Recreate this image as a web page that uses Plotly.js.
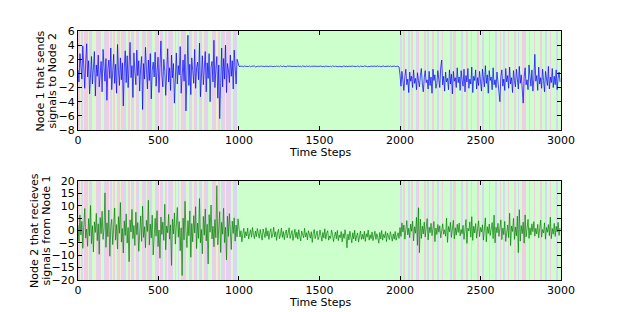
<!DOCTYPE html>
<html>
<head>
<meta charset="utf-8">
<script src="https://cdn.plot.ly/plotly-3.0.1.min.js"></script>
<style>html,body{margin:0;padding:0;background:#fff;}#chart{width:623px;height:312px;}</style>
</head>
<body>
<div id="chart"></div>
<script>
// ---- data (time steps 0..3000, three regimes) ----
const segStarts = [0, 1000, 2000];
const segLength = 1000;

const node1SegA = [0.5,-1.2,2.8,1.1,-0.8,3.9,0.2,-2.1,1.6,4.2,-0.5,1.8,-2.9,0.7,2.4,-1.5,0.9,3.1,-3.2,1.2,
-0.4,2.6,-1.9,0.3,1.7,-2.6,3.4,0.8,-1.1,2.1,-3.8,0.6,1.9,-0.7,3.6,-2.3,0.1,2.7,-1.4,1.3,
-2.8,4.1,0.4,-1.7,2.2,-0.9,1.5,-4.6,0.8,3.2,-1.3,2.5,-2.0,0.5,4.4,-0.6,1.1,-3.4,2.9,0.2,
-1.6,3.3,-0.3,1.8,-2.5,0.9,2.4,-5.1,1.4,-0.8,3.7,0.6,-2.2,1.9,-1.0,2.8,-3.6,0.4,1.6,-0.5,
3.0,-1.8,0.7,2.3,-2.7,1.2,4.6,-0.4,-1.9,2.0,0.3,-3.1,1.7,3.5,-1.2,0.8,-2.4,2.6,-0.6,1.4,
-4.2,0.9,2.9,-1.5,1.1,-0.2,3.8,-2.8,0.5,1.9,-1.1,2.7,-5.3,0.6,5.4,-1.7,1.3,-3.0,2.2,0.4,
-1.4,3.4,-2.1,0.8,1.6,-0.9,4.3,-3.3,1.0,2.5,-1.6,0.2,3.1,-2.6,1.5,-0.7,2.8,-4.0,0.9,1.7,
-1.2,4.7,-2.0,0.6,2.4,-3.5,1.2,-6.4,0.3,3.6,-1.9,2.1,-0.8,4.0,-2.7,1.4,0.5,-1.3,2.6,-0.4,
1.8,-2.2,3.3,0.7,-1.5,2.0,1.2];
const node1SegB = [1.02,0.96,1.05,0.99,1.03,0.94,1.07,1.00,0.97,1.04,0.98,1.06,0.95,1.01,1.03,0.97,1.05,0.93,1.02,0.99,
1.04,0.96,1.01,1.06,0.98,1.03,0.95,1.00,1.05,0.97,1.02,0.94,1.06,0.99,1.03,0.96,1.04,1.00,0.97,1.05,
0.98,1.03,0.95,1.07,1.00,0.96,1.04,0.99,1.02,0.94,1.05,0.98,1.01,1.06,0.97,1.03,0.95,1.02,0.99,1.04,
0.96,1.05,1.00,0.97,1.03,0.93,1.06,0.99,1.02,0.96,1.04,1.00,0.98,1.05,0.95,1.01,1.03,0.97,1.06,0.99,
1.02,0.95,1.04,0.98,1.01,1.06,0.96,1.03,0.99,0.94,1.05,1.00,0.97,1.04,0.98,1.02,0.95,1.06,1.00,0.97,
1.03,0.99,1.05,0.96,1.01,0.98,1.04,0.95,1.02,1.06,0.97,1.00,1.03,0.94,1.05,0.99,1.02,0.97,1.04,1.00,
0.96,1.03,0.98,1.05,1.00,0.95,1.04,0.99,1.02,0.97,1.06,0.98,1.01,0.95,1.03,1.00,0.97,1.05,0.99,1.02,
0.96,1.04,0.98,1.01,1.06,0.97,1.03,0.95,1.02,0.99,1.05,0.98,1.00,1.04,0.96,1.02,0.99,1.05,0.97,1.03,
0.98,1.04,1.00,0.96,1.05,0.99,0.92];
const node1SegC = [-0.2,-1.8,0.3,-1.2,-2.4,-0.5,0.6,-1.6,-0.8,-2.7,0.2,-1.1,-0.4,-2.0,0.5,-1.4,-0.7,-2.3,0.1,-1.0,
-1.9,-0.3,0.7,-1.5,-2.6,-0.6,0.4,-1.3,-0.9,-2.2,0.3,-1.7,-0.5,-2.8,0.6,-1.0,-0.2,-2.1,-1.4,0.4,
-0.8,-2.0,0.9,1.9,-1.6,-0.4,-2.5,0.2,-1.2,-0.7,-2.3,0.5,-1.5,-0.1,-2.9,0.3,-1.1,-0.6,-2.0,0.8,
-1.3,-0.5,-2.4,0.4,-0.9,-1.8,0.6,-2.6,-0.3,-1.2,0.7,-2.1,-0.8,-1.5,0.9,-2.7,-0.4,-1.0,0.5,-2.2,
-0.6,-1.7,0.3,-1.1,-2.5,0.6,-0.7,-1.9,1.1,-1.4,-0.2,-2.8,0.4,-1.0,-0.5,-2.3,0.8,-1.6,-0.9,-2.0,
0.2,-1.3,-2.6,-4.0,-0.4,0.5,-1.8,-0.8,-2.4,0.7,-1.2,-0.3,-2.1,0.9,-1.5,-0.6,-2.7,0.4,-1.0,-1.9,
0.6,-0.7,-2.2,1.0,-1.4,-0.2,-2.9,-4.2,-0.5,0.8,-1.6,-0.9,-2.3,1.2,-0.4,-1.8,0.5,-2.5,-0.8,2.7,
-1.1,-0.3,-2.4,0.9,-1.5,-0.6,-2.1,0.6,-1.0,-2.6,0.3,-0.8,-1.7,1.0,-2.2,-0.5,-1.3,0.7,-2.0,-0.4,
-1.6,0.5,-2.3,-0.7,0.2,-1.2];

const node2SegA = [2.1,-4.5,6.3,-1.8,3.7,-7.2,1.4,8.9,-3.1,0.6,-6.4,4.8,-2.2,10.1,-5.3,1.9,-8.7,3.5,-0.8,6.9,
-4.1,2.7,-9.6,5.2,-1.3,7.8,-3.6,0.9,15.2,-6.8,3.1,-2.5,8.3,-10.4,1.6,4.5,-5.7,0.3,9.1,-3.9,
2.4,-7.5,5.6,-1.1,11.3,-4.7,0.8,-9.1,3.9,-2.0,6.7,-5.1,1.2,-12.6,4.3,-0.6,8.5,-3.3,2.0,-6.1,
7.4,-1.7,3.2,-8.4,0.5,5.9,-4.4,9.8,-2.8,1.5,-7.0,4.1,-0.4,12.2,-5.9,2.6,-3.0,6.2,-9.9,1.0,
4.9,-2.3,8.0,-6.5,0.2,-11.2,5.4,-1.6,3.4,-4.0,10.6,-7.8,1.8,-0.9,6.5,-3.5,2.3,-14.1,4.6,-1.4,
7.1,-5.5,0.7,9.3,-2.7,3.6,-8.2,1.1,-18.2,5.0,-3.8,11.8,-0.2,-6.9,4.0,-2.1,7.9,-10.8,2.8,-4.6,
6.0,-1.0,9.6,-7.3,3.0,-3.2,12.9,-5.0,0.4,-9.4,5.7,-1.9,8.7,-4.2,2.5,-13.5,6.4,-0.7,10.3,-3.4,
1.7,-6.6,4.4,-2.9,18.1,-5.8,0.9,7.6,-8.9,3.3,-1.5,9.0,-4.9,1.3,-11.9,5.8,-2.4,6.8,-0.3,-7.7,
3.8,-1.2,5.1,-4.3,2.2,-2.6,4.7];
const node2SegB = [0.2,-2.6,-0.1,-4.6,-1.2,0.9,-3.0,-0.5,-2.2,1.0,-3.4,-0.9,0.3,-2.7,1.2,-1.6,-3.3,-0.2,-2.5,0.8,
-1.3,-3.1,0.4,-2.0,-3.9,0.6,-1.0,-2.9,1.1,-2.3,-0.1,-3.6,-0.8,0.7,-2.9,-1.4,1.3,-2.6,-0.5,-4.0,
-1.0,0.5,-3.3,-1.8,1.0,-2.8,-0.4,-3.7,-1.2,0.2,-3.0,-0.9,1.1,-3.2,-1.7,0.0,-4.0,-1.1,0.5,-2.9,
-0.7,-3.5,0.3,-2.3,-4.2,-0.2,-1.4,-3.0,0.9,-2.6,-0.9,-3.8,-0.1,-2.2,-3.1,-0.5,-4.8,-1.2,0.4,-3.3,
-1.4,-0.2,-3.7,-2.5,0.2,-2.0,-4.3,-0.8,-3.0,0.7,-3.5,-1.1,-0.1,-3.9,-2.2,-3.2,0.2,-1.6,-4.5,-2.4,
-0.6,-3.3,0.0,-4.1,-1.9,-2.9,-0.4,-4.6,-1.3,-3.2,0.3,-2.4,-7.0,-1.5,-3.8,-0.3,-3.0,-5.0,-0.9,-3.4,
0.1,-4.2,-2.2,-1.0,-4.7,-2.8,-0.2,-3.6,-1.6,-3.5,-0.3,-4.4,-1.3,-2.7,0.2,-3.9,-1.7,-3.3,-0.6,-4.1,
-2.0,-0.3,-3.6,-1.3,-3.0,-5.1,-0.8,-3.4,0.0,-3.9,-1.6,-2.9,-0.4,-4.5,-1.0,-3.2,-3.7,-0.5,-2.6,-4.3,
-1.4,-3.5,-0.4,-3.9,-2.2,-0.9,-3.2];
const node2SegC = [1.2,-2.4,3.1,-0.6,2.2,-3.5,0.4,4.0,-1.8,0.9,-2.9,2.6,-0.3,3.8,-4.2,1.5,-1.1,5.3,-6.0,9.2,
-9.0,4.6,-3.2,1.8,-1.4,3.4,-2.6,0.7,4.8,-3.8,1.3,-0.9,2.9,-2.1,0.5,3.6,-4.5,1.0,-1.6,2.4,
-0.7,1.9,-3.0,0.8,2.7,-1.5,0.3,-2.3,5.0,-4.8,1.6,-0.5,3.3,-2.8,0.6,4.1,-3.4,1.1,-1.9,2.5,
-0.8,3.0,-2.2,0.4,-1.3,2.1,-3.6,1.4,4.4,-5.2,0.9,-0.2,3.5,-2.7,5.6,-4.0,1.7,-1.0,2.8,-3.1,
0.5,3.9,-2.5,1.2,-0.6,2.3,-3.9,0.8,5.1,-4.6,1.5,-1.2,2.6,-2.0,0.2,3.2,-3.3,6.2,-5.0,1.3,
-0.9,2.9,-2.4,0.6,4.3,-3.7,1.0,-1.7,3.7,-4.4,0.3,2.2,-2.9,7.0,-6.1,1.8,-0.4,4.9,-3.6,1.4,
-2.2,5.8,-9.0,8.4,-4.3,2.0,-1.3,3.4,-5.1,6.3,-2.6,0.7,4.5,-3.2,1.1,-1.8,2.7,-0.5,3.6,-2.3,
0.9,-1.4,2.5,-3.0,1.6,4.2,-2.7,0.4,-1.0,3.1,-3.5,1.2,-0.7,2.4,-2.1,5.4,-3.3,0.8,-1.5,2.9,
-2.4,1.7,-0.6,3.3,-2.0,1.0];

// hidden-state labels (0 green, 1 pink, 2 lavender, 3 pale yellow-green), one per 10-step block
const statesSegA = [1,3,2,0,1,1,3,2,2,0, 3,1,2,1,3,0,2,1,1,3, 2,3,1,0,2,1,3,1,2,2, 0,1,3,2,1,3,1,2,0,3,
1,2,3,1,1,2,0,3,2,1, 3,1,2,0,1,3,2,1,2,3, 1,0,2,3,1,1,2,3,0,2, 1,3,1,2,0,1,2,3,1,2,
1,0,3,2,1,2,3,1,0,2, 1,3,2,1,2,3,1,2,2,0];
const statesSegB = [0];
const statesSegC = [2,0,1,0,0,2,0,1,0,0, 2,1,0,0,0,1,0,2,0,0, 1,0,0,2,0,0,1,0,0,0, 0,2,0,1,1,0,0,0,2,0,
0,1,0,0,2,0,0,0,1,0, 0,2,0,0,0,1,0,0,0,2, 0,0,1,0,2,0,0,1,0,0, 0,1,0,2,0,0,1,1,0,0,
2,0,0,1,0,0,0,1,0,0, 2,0,0,1,0,0,0,2,0,0];

const xTicks = [0, 500, 1000, 1500, 2000, 2500, 3000];
const y1Ticks = [6, 4, 2, 0, -2, -4, -6, -8];
const y2Ticks = [20, 15, 10, 5, 0, -5, -10, -15, -20];

const xTitle = 'Time Steps';
const y1TitleLines = ['Node 1 that sends', 'signals to Node 2'];
const y2TitleLines = ['Node 2 that recieves', 'signals from Node 1'];

// ---- build ----
function seriesXY(segs) {
  const xs = [], ys = [];
  segs.forEach((vals, k) => {
    const step = segLength / vals.length;
    vals.forEach((v, i) => { xs.push(segStarts[k] + i * step); ys.push(v); });
  });
  return {xs, ys};
}
const s1 = seriesXY([node1SegA, node1SegB, node1SegC]);
const s2 = seriesXY([node2SegA, node2SegB, node2SegC]);

const edges = [], states = [];
[statesSegA, statesSegB, statesSegC].forEach((seg, k) => {
  const w = segLength / seg.length;
  seg.forEach((st, i) => { edges.push(segStarts[k] + i * w); states.push(st); });
});
edges.push(segStarts[2] + segLength);

const cG = '#ccffcc', cP = '#f2cde2', cB = '#d8d6f3', cY = '#e4f4cf';
const cscale = [[0,cG],[0.25,cG],[0.25,cP],[0.5,cP],[0.5,cB],[0.75,cB],[0.75,cY],[1,cY]];

function band(xa, ya, ylo, yhi) {
  return {type:'heatmap', x: edges, y: [ylo, yhi], z: [states], xaxis: xa, yaxis: ya,
    colorscale: cscale, zmin: -0.5, zmax: 3.5, showscale: false, hoverinfo: 'skip', zsmooth: false};
}

const traces = [
  band('x', 'y', -8, 6),
  band('x2', 'y2', -20, 20),
  {type:'scatter', mode:'lines', x: s1.xs, y: s1.ys, xaxis:'x', yaxis:'y',
   line:{color:'#0000ff', width:0.7}, hoverinfo:'skip'},
  {type:'scatter', mode:'lines', x: s2.xs, y: s2.ys, xaxis:'x2', yaxis:'y2',
   line:{color:'#008000', width:0.7}, hoverinfo:'skip'}
];

const font = {family:'DejaVu Sans, sans-serif', size:11, color:'#000'};
function xax(anchor) {
  return {domain:[0.1252, 0.9005], anchor: anchor, range:[0,3000], tickvals: xTicks,
    ticks:'inside', ticklen:4, tickcolor:'#000', mirror:'ticks', showline:true, linecolor:'#000',
    linewidth:1, showgrid:false, zeroline:false, tickfont: font};
}
function yax(anchor, dom, rng, tv) {
  return {domain: dom, anchor: anchor, range: rng, tickvals: tv,
    ticks:'inside', ticklen:4, tickcolor:'#000', mirror:'ticks', showline:true, linecolor:'#000',
    linewidth:1, showgrid:false, zeroline:false, tickfont: font};
}
function ann(text, xpx, ypx, angle) {
  return {text: text, xref:'paper', yref:'paper', x: xpx / 623, y: 1 - ypx / 312,
    xanchor:'center', yanchor:'middle', showarrow:false, textangle: angle, font: font, borderpad: 0};
}

const layout = {
  width:623, height:312, margin:{l:0, r:0, t:0, b:0},
  paper_bgcolor:'#fff', plot_bgcolor:'#fff', showlegend:false, font: font,
  xaxis: xax('y'),
  yaxis: yax('x', [0.5833, 0.9006], [-8, 6], y1Ticks),
  xaxis2: xax('y2'),
  yaxis2: yax('x2', [0.1026, 0.4199], [-20, 20], y2Ticks),
  annotations: [
    ann(y1TitleLines[0], 40, 80.5, -90),
    ann(y1TitleLines[1], 52, 80.5, -90),
    ann(y2TitleLines[0], 34.5, 230.5, -90),
    ann(y2TitleLines[1], 46, 230.5, -90),
    ann(xTitle, 319.5, 152, 0),
    ann(xTitle, 319.5, 302.5, 0)
  ]
};

Plotly.newPlot('chart', traces, layout, {staticPlot:true, displayModeBar:false});
</script>
</body>
</html>
